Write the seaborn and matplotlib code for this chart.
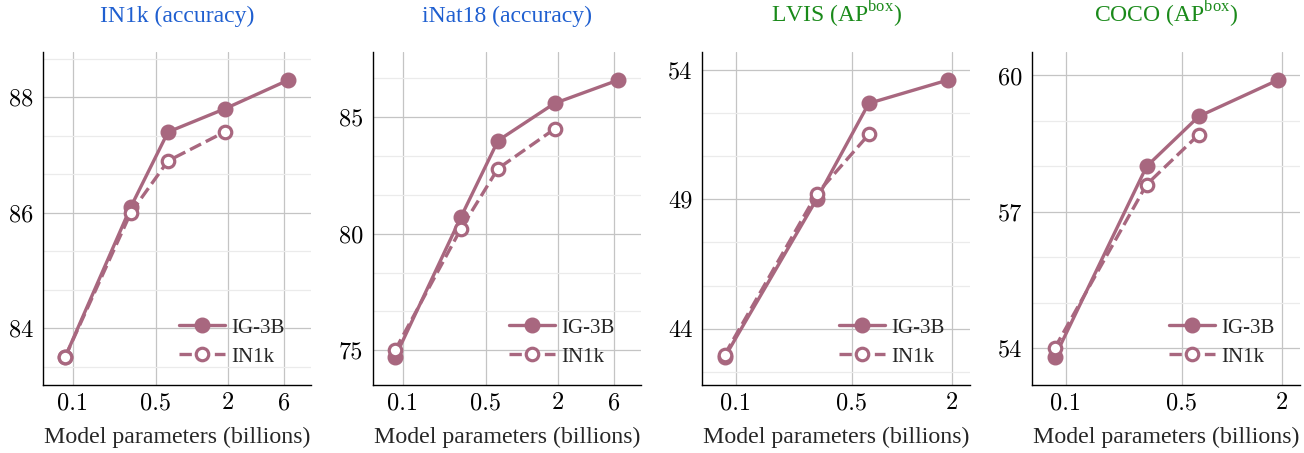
import matplotlib
matplotlib.use("Agg")
import matplotlib.pyplot as plt
import numpy as np
import pandas as pd
import seaborn as sns
from matplotlib.ticker import AutoMinorLocator, FixedLocator, NullLocator

# model sizes (billions of params)
params_ig = [0.086, 0.307, 0.632, 1.89, 6.5]
params_in1k = [0.086, 0.307, 0.632, 1.89]

# IN1k accuracy
in1k_ig = [83.5, 86.1, 87.4, 87.8, 88.3]
in1k_in1k = [83.5, 86.0, 86.9, 87.4]

# iNat18 accuracy
inat_ig = [74.7, 80.7, 84.0, 85.6, 86.6]
inat_in1k = [75.0, 80.2, 82.8, 84.5]

# LVIS AP box
lvis_ig = [42.9, 49.0, 52.7, 53.6]
lvis_in1k = [43.0, 49.2, 51.5]

# COCO AP box
coco_ig = [53.8, 58.0, 59.1, 59.9]
coco_in1k = [54.0, 57.6, 58.7]

panels = [
    ("IN1k (accuracy)", "#1f5fd0", params_ig, in1k_ig, params_in1k, in1k_in1k,
     [0.1, 0.5, 2, 6], [84, 86, 88]),
    ("iNat18 (accuracy)", "#1f5fd0", params_ig, inat_ig, params_in1k, inat_in1k,
     [0.1, 0.5, 2, 6], [75, 80, 85]),
    (r"LVIS (AP$^{\mathrm{box}}$)", "#1a8a1a", params_ig[:4], lvis_ig, params_in1k[:3], lvis_in1k,
     [0.1, 0.5, 2], [44, 49, 54]),
    (r"COCO (AP$^{\mathrm{box}}$)", "#1a8a1a", params_ig[:4], coco_ig, params_in1k[:3], coco_in1k,
     [0.1, 0.5, 2], [54, 57, 60]),
]

LINE = "#a8677f"
SERIF = ["Liberation Serif", "DejaVu Serif"]

sns.set_theme(style="white")
plt.rcParams["font.family"] = SERIF
plt.rcParams["mathtext.fontset"] = "custom"
plt.rcParams["mathtext.rm"] = "Liberation Serif"

W, H = 1304, 453
fig = plt.figure(figsize=(W / 100, H / 100), dpi=100)

lefts = [42.7, 372.7, 702.3, 1032.3]
ax_w, ax_top, ax_bot = 268, 52.3, 385


def enlarge(lo, hi, frac=0.1):
    pad = (hi - lo) * frac
    return lo - pad, hi + pad


for left, (title, tcolor, x_ig, y_ig, x_in, y_in, xt, yt) in zip(lefts, panels):
    ax = fig.add_axes([left / W, 1 - ax_bot / H, ax_w / W, (ax_bot - ax_top) / H])
    ax.set_xscale("log")

    df_ig = pd.DataFrame({"params": x_ig, "score": y_ig})
    df_in = pd.DataFrame({"params": x_in, "score": y_in})

    sns.lineplot(data=df_ig, x="params", y="score", ax=ax, color=LINE, lw=2.4,
                 marker="o", markersize=10.5, markerfacecolor=LINE,
                 markeredgecolor=LINE, markeredgewidth=1, label="IG-3B", zorder=3)
    sns.lineplot(data=df_in, x="params", y="score", ax=ax, color=LINE, lw=2.4,
                 linestyle="--", marker="o", markersize=9, markerfacecolor="white",
                 markeredgecolor=LINE, markeredgewidth=2.3, label="IN1k", zorder=4)

    lx = np.log10(x_ig)
    xlo, xhi = enlarge(lx.min(), lx.max())
    ax.set_xlim(10 ** xlo, 10 ** xhi)
    ally = y_ig + y_in
    ax.set_ylim(*enlarge(min(ally), max(ally)))

    ax.xaxis.set_major_locator(FixedLocator(xt))
    ax.xaxis.set_minor_locator(NullLocator())
    ax.set_xticklabels([f"{v:g}" for v in xt])
    ax.yaxis.set_major_locator(FixedLocator(yt))
    ax.yaxis.set_minor_locator(AutoMinorLocator(3))
    ax.set_yticklabels([str(v) for v in yt])

    ax.grid(True, which="major", color="#c4c4c4", lw=0.9)
    ax.grid(True, which="minor", axis="y", color="#ebebeb", lw=0.9)
    ax.set_axisbelow(True)

    ax.tick_params(axis="both", which="both", direction="in", color="#9a9a9a",
                   labelsize=17.5, labelfontfamily="cmr10", labelcolor="black")
    ax.tick_params(axis="both", which="major", length=5, width=0.8)
    ax.tick_params(axis="y", which="minor", length=4, width=0.8)
    ax.tick_params(axis="x", pad=5)
    ax.tick_params(axis="y", pad=7)

    for side in ["top", "right"]:
        ax.spines[side].set_visible(False)
    for side in ["left", "bottom"]:
        ax.spines[side].set_color("black")
        ax.spines[side].set_linewidth(1.0)

    ax.set_xlabel("Model parameters (billions)", fontsize=17.2, labelpad=9)
    ax.set_ylabel("")
    ax.set_title(title, color=tcolor, fontsize=17, pad=22)

    ax.legend(loc="lower right", bbox_to_anchor=(0.935, 0.03), frameon=False,
              fontsize=15, handlelength=2.2, handletextpad=0.3,
              labelspacing=0.45, borderaxespad=0)

fig.savefig("out.png", dpi=100, facecolor="white")
